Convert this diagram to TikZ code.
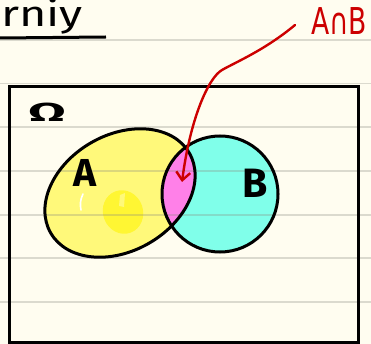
\documentclass[tikz,border=0pt]{standalone}
\usepackage{fontspec}
\setmainfont{Fira Sans}
\newfontfamily\symfont{DejaVu Sans}
\usetikzlibrary{arrows.meta}
\definecolor{paper}{HTML}{FFFDF0}
\definecolor{rule}{HTML}{8A8A80}
\definecolor{yelA}{HTML}{FFF97A}
\definecolor{yelB}{HTML}{FFF633}
\definecolor{cyanB}{HTML}{80FFEA}
\definecolor{magAB}{HTML}{FF80E8}
\definecolor{penred}{HTML}{CC0000}
\tikzset{
  ruleline/.style={draw=rule, line width=1.4pt, opacity=0.3},
  outline/.style={draw=black, line width=3pt},
  hand/.style={inner sep=0pt, anchor=base, text=black},
  redpen/.style={draw=penred, line width=2.4pt, line cap=round}
}
\begin{document}
\begin{tikzpicture}[x=1pt,y=-1pt]
\useasboundingbox (0,0) rectangle (371,344);
\fill[paper] (0,0) rectangle (371,344);
\coordinate (cA) at (120,193);
\coordinate (cB) at (220,194);
\coordinate (blob) at (123,212);
% fills
\fill[yelA, rotate around={30:(cA)}] (cA) ellipse [x radius=80, y radius=58];
\fill[cyanB] (cB) circle [radius=58];
\begin{scope}
  \clip[rotate around={30:(cA)}] (cA) ellipse [x radius=80, y radius=58];
  \fill[magAB] (cB) circle [radius=58];
\end{scope}
\fill[yelB, rotate around={20:(blob)}] (blob) ellipse [x radius=20, y radius=22];
\draw[white, line width=1.6pt, line cap=round] (83,194) .. controls (80,200) and (80,205) .. (81,210);
\fill[white, opacity=0.35] (120,195) -- (125,193) -- (124,207) -- (119,206) -- cycle;
% ruled lines
\foreach \yy in {40,83.5,127,171,215,258,302}
  \draw[ruleline] (0,\yy) -- (371,\yy);
% heading text
\node[hand, anchor=base west] (head) at (1,27) {\scalebox{1.3}[1]{\fontsize{36}{36}\selectfont rniy}};
\coordinate (ulL) at (0,38);
\coordinate (ulR) at (106,37);
\draw[black, line width=3pt] (ulL) -- (ulR);
% frame
\node[outline, minimum width=349pt, minimum height=255pt, inner sep=0pt] (frame) at (183.5,214.5) {};
% outlines of sets
\draw[outline, rotate around={30:(cA)}] (cA) ellipse [x radius=80, y radius=58];
\draw[outline] (cB) circle [radius=58];
% labels
\node[hand] (omega) at (47,122) {\scalebox{2.1}[1]{\fontsize{26}{26}\selectfont\bfseries Ω}};
\node[hand] (labA) at (85,187) {\fontsize{39}{39}\selectfont\bfseries A};
\node[hand] (labB) at (255,197) {\fontsize{41}{41}\selectfont\bfseries B};
\node[hand, text=penred] (labAB) at (339,35) {\scalebox{0.72}[1]{\symfont\fontsize{37}{37}\selectfont A∩B}};
% arrow
\coordinate (arrS) at (295,25);
\coordinate (arrM) at (222,70);
\coordinate (arrT) at (182,182);
\draw[redpen, -{Straight Barb[length=8pt,width=14pt,line width=2.4pt]}]
  (arrS) .. controls (265,50) and (236,62) .. (arrM)
  .. controls (208,78) and (190,120) .. (arrT);
\end{tikzpicture}
\end{document}
